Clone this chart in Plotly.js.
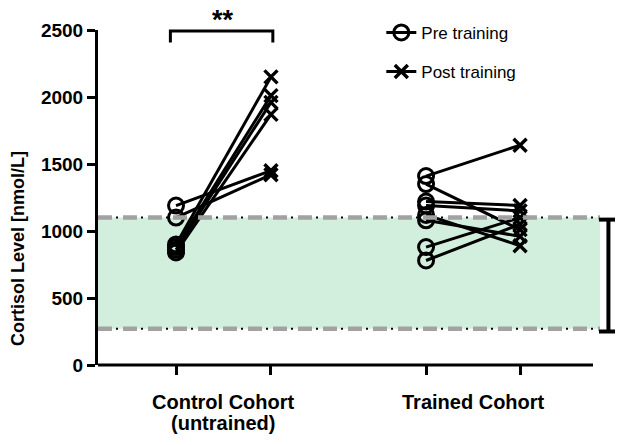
<!DOCTYPE html>
<html>
<head>
<meta charset="utf-8">
<script src="https://cdn.plot.ly/plotly-3.0.1.min.js"></script>
<style>
  body { margin: 0; background: #fff; }
  #myDiv { width: 623px; height: 445px; }
</style>
</head>
<body>
<div id="myDiv"></div>
<script>
// group positions on the x axis (pre / post for each cohort)
var groupPos = [1, 2.01, 3.66, 4.66];
var groupLabels = [['Control Cohort', '(untrained)'], ['Trained Cohort']];

// cortisol, nmol/L, one entry per subject
var controlPre = [1190, 1100, 900, 880, 860, 840];
var controlPost = [1450, 1420, 2150, 2010, 1960, 1870];
var trainedPre = [1410, 1350, 1220, 1190, 1120, 1080, 880, 780];
var trainedPost = [1640, 1010, 1190, 1150, 890, 960, 1100, 1050];

// reference range (shaded band) and the bar at the right
var refRange = [270, 1100];
var errRange = [250, 1085];

var yTicks = [0, 500, 1000, 1500, 2000, 2500];
var black = '#000';
var font = 'Arial, "Liberation Sans", sans-serif';

var data = [];

function addPairs(pre, post, xPre, xPost) {
    for (var i = 0; i < pre.length; i++) {
        data.push({
            x: [xPre, xPost],
            y: [pre[i], post[i]],
            mode: 'lines',
            type: 'scatter',
            line: {color: black, width: 3},
            showlegend: false,
            hoverinfo: 'skip'
        });
    }
}
addPairs(controlPre, controlPost, groupPos[0], groupPos[1]);
addPairs(trainedPre, trainedPost, groupPos[2], groupPos[3]);

// markers: nulls between points so no connecting line, but the legend keeps the line
function markerTrace(a, xa, b, xb, name, symbol, size, lw) {
    var xs = [], ys = [];
    a.forEach(function (v) { xs.push(xa); ys.push(v); xs.push(null); ys.push(null); });
    b.forEach(function (v) { xs.push(xb); ys.push(v); xs.push(null); ys.push(null); });
    return {
        x: xs,
        y: ys,
        name: name,
        legendgroup: name,
        mode: 'lines+markers',
        type: 'scatter',
        connectgaps: false,
        line: {color: black, width: 3},
        marker: {symbol: symbol, size: size, color: black, line: {color: black, width: lw}}
    };
}
data.push(markerTrace(controlPre, groupPos[0], trainedPre, groupPos[2], 'Pre training', 'circle-open', 15, 3));
data.push(markerTrace(controlPost, groupPos[1], trainedPost, groupPos[3], 'Post training', 'x-thin-open', 13, 3.4));

var x0 = 0.17, axisEnd = 5.436, bandEnd = 5.51, errX = 5.6, capW = 0.1;

var shapes = [
    {type: 'rect', xref: 'x', yref: 'y', x0: x0, x1: bandEnd, y0: refRange[0], y1: refRange[1],
     fillcolor: '#d2eedd', line: {width: 0}, layer: 'below'},
    // dash-dot lines: grey dashes with small black dots
    {type: 'line', xref: 'x', yref: 'y', x0: x0, x1: bandEnd, y0: refRange[1], y1: refRange[1],
     line: {color: '#a2a2a2', width: 4.5, dash: '14px,11px'}},
    {type: 'line', xref: 'x', yref: 'y', x0: x0, x1: bandEnd, y0: refRange[1], y1: refRange[1],
     line: {color: black, width: 2, dash: '0px,18px,2px,5px'}},
    {type: 'line', xref: 'x', yref: 'y', x0: x0, x1: bandEnd, y0: refRange[0], y1: refRange[0],
     line: {color: '#a2a2a2', width: 4.5, dash: '14px,11px'}},
    {type: 'line', xref: 'x', yref: 'y', x0: x0, x1: bandEnd, y0: refRange[0], y1: refRange[0],
     line: {color: black, width: 2, dash: '0px,18px,2px,5px'}},
    // range bar on the right
    {type: 'line', xref: 'x', yref: 'y', x0: errX, x1: errX, y0: errRange[0], y1: errRange[1],
     line: {color: black, width: 4}},
    {type: 'line', xref: 'x', yref: 'y', x0: errX - capW, x1: errX + capW, y0: errRange[0], y1: errRange[0],
     line: {color: black, width: 4}},
    {type: 'line', xref: 'x', yref: 'y', x0: errX - capW, x1: errX + capW, y0: errRange[1], y1: errRange[1],
     line: {color: black, width: 4}},
    // x axis line (stops short of the plot edge)
    {type: 'line', xref: 'x', yref: 'paper', x0: x0, x1: axisEnd, y0: 0, y1: 0,
     line: {color: black, width: 3}},
    // significance bracket
    {type: 'path', xref: 'x', yref: 'paper',
     path: 'M 0.94,0.963 L 0.94,0.997 L 2.03,0.997 L 2.03,0.963',
     line: {color: black, width: 3}}
];

var annotations = [
    {text: '**', xref: 'x', yref: 'paper', x: (groupPos[0] + groupPos[1]) / 2, y: 0.978,
     yanchor: 'bottom', showarrow: false, font: {family: font, size: 27, color: black, weight: 'bold'}},
    {text: 'Cortisol Level [nmol/L]', xref: 'paper', yref: 'paper', x: -0.178, y: 0.349,
     textangle: -90, showarrow: false, font: {family: font, size: 18, color: black, weight: 'bold'}}
];

// category labels, one annotation per line, centred under each pre/post pair
groupLabels.forEach(function (lines, g) {
    lines.forEach(function (txt, k) {
        annotations.push({
            text: txt, xref: 'x', yref: 'paper',
            x: (groupPos[2 * g] + groupPos[2 * g + 1]) / 2,
            y: -0.111 - k * 0.062, yanchor: 'middle', showarrow: false,
            font: {family: font, size: 20, color: black, weight: 'bold'}
        });
    });
});

var layout = {
    width: 623,
    height: 445,
    margin: {l: 98, r: 8, t: 30, b: 80},
    paper_bgcolor: '#fff',
    plot_bgcolor: 'rgba(0,0,0,0)',
    showlegend: true,
    legend: {
        x: 0.548, y: 1.045, xanchor: 'left', yanchor: 'top',
        bgcolor: 'rgba(0,0,0,0)',
        font: {family: font, size: 17, color: black},
        tracegroupgap: 14
    },
    xaxis: {
        range: [x0, 5.67],
        showgrid: false, zeroline: false, showline: false,
        tickvals: groupPos, ticktext: ['', '', '', ''],
        ticks: 'outside', ticklen: 9, tickwidth: 3, tickcolor: black
    },
    yaxis: {
        range: [0, 2500],
        showgrid: false, zeroline: false,
        showline: true, linewidth: 3, linecolor: black,
        tickvals: yTicks,
        ticks: 'outside', ticklen: 8, tickwidth: 3, tickcolor: black,
        tickfont: {family: font, size: 19, color: black, weight: 'bold'}
    },
    shapes: shapes,
    annotations: annotations
};

Plotly.newPlot('myDiv', data, layout, {displayModeBar: false, staticPlot: true});
</script>
</body>
</html>
